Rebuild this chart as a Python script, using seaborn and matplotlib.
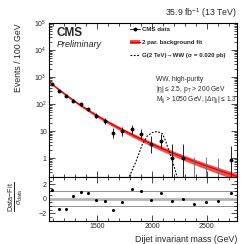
import numpy as np
import pandas as pd
import matplotlib
matplotlib.use("Agg")
import matplotlib.pyplot as plt
import matplotlib.ticker as mticker
from matplotlib.patches import Patch
from matplotlib.lines import Line2D
import seaborn as sns

# ---------------- data ----------------
bin_edges = [1058, 1118, 1181, 1246, 1313, 1383, 1455, 1530, 1607, 1687, 1770,
             1856, 1945, 2037, 2132, 2231, 2332, 2438, 2546, 2659, 2775]
counts = [339, 185, 125, 90, 68, 45, 28, 18, 7, 8, 10, 7, 3, 4, 1, 1, 0, 0, 0, 1]
zero_bin_err_hi = 1.15          # upper error drawn for empty bins (counts)

pulls = [1.2, -1.4, -1.4, 0.33, 0.98, 0.84, -0.23, -0.33, -1.58, -0.51,
         1.4, 1.07, -0.14, 0.84, -0.28, -0.09, -0.7, -0.51, -0.37, 0.79]

# 2-parameter background fit: N(m) = fit_norm * (m / fit_ref)^(-fit_slope)
fit_ref = 1058.0
fit_norm = 685.0
fit_slope = 8.39
fit_unc_left = 0.08             # relative band half-width at low mass
fit_unc_right = 0.28            # relative band half-width at high mass

# G(2 TeV) -> WW signal shape
sig_mass = [1775, 1793, 1848, 1910, 1957, 2003, 2049, 2095, 2126, 2157, 2188, 2219, 2235]
sig_vals = [0.12, 0.21, 0.65, 3.1, 6.6, 8.8, 9.6, 7.9, 4.1, 1.75, 0.75, 0.28, 0.16]

xticks = [1500, 2000, 2500]
ratio_yticks = [-2, 0, 2]

# ---------------- derived quantities ----------------
edges = np.array(bin_edges, float)
centers = 0.5 * (edges[1:] + edges[:-1])
widths = edges[1:] - edges[:-1]
n = np.array(counts, float)
scale = 100.0 / widths
dens = n * scale

lo = np.zeros_like(n)
hi = np.zeros_like(n)
for i, k in enumerate(n):
    if k > 0:
        lo[i] = k - k * (1 - 1 / (9 * k) - 1 / (3 * np.sqrt(k))) ** 3
        hi[i] = (k + 1) * (1 - 1 / (9 * (k + 1)) + 1 / (3 * np.sqrt(k + 1))) ** 3 - k
    else:
        hi[i] = zero_bin_err_hi
lo *= scale
hi *= scale

m = np.linspace(bin_edges[0], bin_edges[-1], 300)
fit = fit_norm * (m / fit_ref) ** (-fit_slope)
rel = fit_unc_left + (fit_unc_right - fit_unc_left) * (m - m[0]) / (m[-1] - m[0])

df_fit = pd.DataFrame({"mass": m, "fit": fit})
df_pull = pd.DataFrame({"mass": centers, "pull": pulls})

# ---------------- style ----------------
sns.set_theme(style="ticks")
plt.rcParams["font.family"] = ["Liberation Sans", "DejaVu Sans"]
plt.rcParams["mathtext.fontset"] = "custom"
plt.rcParams["mathtext.rm"] = "Liberation Sans"
plt.rcParams["mathtext.it"] = "Liberation Sans:italic"
plt.rcParams["mathtext.bf"] = "Liberation Sans:bold"

fig = plt.figure(figsize=(2.52, 2.44), dpi=100)
ax = fig.add_axes([0.194, 0.275, 0.746, 0.631])
rax = fig.add_axes([0.194, 0.096, 0.746, 0.179], sharex=ax)

SIG_LS = (0, (1.6, 1.4))

# ---------------- main panel ----------------
ax.fill_between(m, fit * (1 - rel), fit * (1 + rel), color="#ff4a4a", lw=0, zorder=1)
sns.lineplot(data=df_fit, x="mass", y="fit", ax=ax, color="#d40000", lw=0.8, zorder=2)
ax.plot(sig_mass, sig_vals, color="black", lw=0.8, linestyle=SIG_LS, zorder=3)

nz = n > 0
ax.errorbar(centers[nz], dens[nz], yerr=[lo[nz], hi[nz]], fmt="o", ms=1.8,
            color="black", ecolor="black", elinewidth=0.6, capsize=0, zorder=4)
ax.vlines(centers[~nz], 1e-3, hi[~nz], color="#666666", lw=0.6, zorder=4)

ax.set_yscale("log")
ax.set_ylim(0.2, 1e5)
ax.set_xlim(bin_edges[0], bin_edges[-1])
ax.set_ylabel("Events / 100 GeV", fontsize=6.3, loc="top")
ax.yaxis.set_label_coords(-0.14, 1.0)
ax.set_xlabel("")
ax.yaxis.set_major_locator(mticker.LogLocator(base=10, numticks=10))
ax.yaxis.set_minor_locator(mticker.LogLocator(base=10, subs=np.arange(2, 10), numticks=20))
ax.yaxis.set_minor_formatter(mticker.NullFormatter())

def yfmt(v, pos):
    if abs(v - 1) < 1e-9:
        return "1"
    if abs(v - 10) < 1e-9:
        return "10"
    e = int(round(np.log10(v)))
    return r"$10^{%d}$" % e
ax.yaxis.set_major_formatter(mticker.FuncFormatter(yfmt))

ax.text(0.043, 0.935, "CMS", transform=ax.transAxes, fontsize=8.5,
        fontweight="bold", va="center", ha="left")
ax.text(0.043, 0.862, "Preliminary", transform=ax.transAxes, fontsize=6.5,
        style="italic", va="center", ha="left")
ax.text(1.0, 1.02, r"35.9 fb$^{-1}$ (13 TeV)", transform=ax.transAxes,
        fontsize=6.3, ha="right", va="bottom")

txt_kw = dict(transform=ax.transAxes, fontsize=4.8, ha="left", va="center")
ax.text(0.57, 0.635, "WW, high-purity", **txt_kw)
ax.text(0.57, 0.568, r"|η| ≤ 2.5, p$_{\mathrm{T}}$ > 200 GeV", **txt_kw)
ax.text(0.57, 0.50, r"M$_{\mathrm{jj}}$ > 1050 GeV, |Δη$_{\mathrm{jj}}$| ≤ 1.3", **txt_kw)

h_data = Line2D([], [], marker="o", ms=1.8, color="black", lw=0)
h_data_err = Line2D([], [], color="black", lw=0.6)
h_fit = (Patch(facecolor="#ff4a4a", edgecolor="none"),
         Line2D([], [], color="#d40000", lw=0.8))
h_sig = Line2D([], [], color="black", lw=0.8, linestyle=SIG_LS)
leg = ax.legend([(h_data_err, h_data), h_fit, h_sig],
                ["CMS data", "2 par. background fit",
                 r"G(2 TeV)→WW (σ = 0.020 pb)"],
                loc="upper left", bbox_to_anchor=(0.42, 0.99), frameon=False,
                fontsize=4.4, handlelength=1.6, handletextpad=0.3,
                labelspacing=1.25, borderaxespad=0)
for t in leg.get_texts():
    t.set_fontweight("bold")

# ---------------- ratio panel ----------------
rax.axhline(0, color="#b4b4b4", lw=2.0, zorder=1)
rax.axhline(1, color="black", lw=0.6, linestyle=(0, (1.2, 1.2)), zorder=1)
rax.axhline(-1, color="black", lw=0.6, linestyle=(0, (1.2, 1.2)), zorder=1)
sns.scatterplot(data=df_pull, x="mass", y="pull", ax=rax, color="black",
                s=5, linewidth=0, zorder=3)
rax.set_ylim(-3, 3)
rax.set_yticks(ratio_yticks)
rax.yaxis.set_minor_locator(mticker.MultipleLocator(0.5))
rax.set_xticks(xticks)
rax.xaxis.set_minor_locator(mticker.MultipleLocator(100))
rax.set_ylabel(r"$\frac{\mathrm{Data\!-\!Fit}}{\sigma_{\mathrm{data}}}$", fontsize=7.5)
rax.yaxis.set_label_coords(-0.125, 0.55)
rax.set_xlabel("Dijet invariant mass (GeV)", fontsize=6.3, loc="right")

plt.setp(ax.get_xticklabels(), visible=False)

for a in (ax, rax):
    a.tick_params(which="both", direction="in", top=True, right=True,
                  labelsize=5, width=0.5, pad=1.5, color="black")
    a.tick_params(which="major", length=4)
    a.tick_params(which="minor", length=2)
    for s in a.spines.values():
        s.set_linewidth(0.8)
        s.set_color("black")

fig.savefig("out.png", dpi=100)
